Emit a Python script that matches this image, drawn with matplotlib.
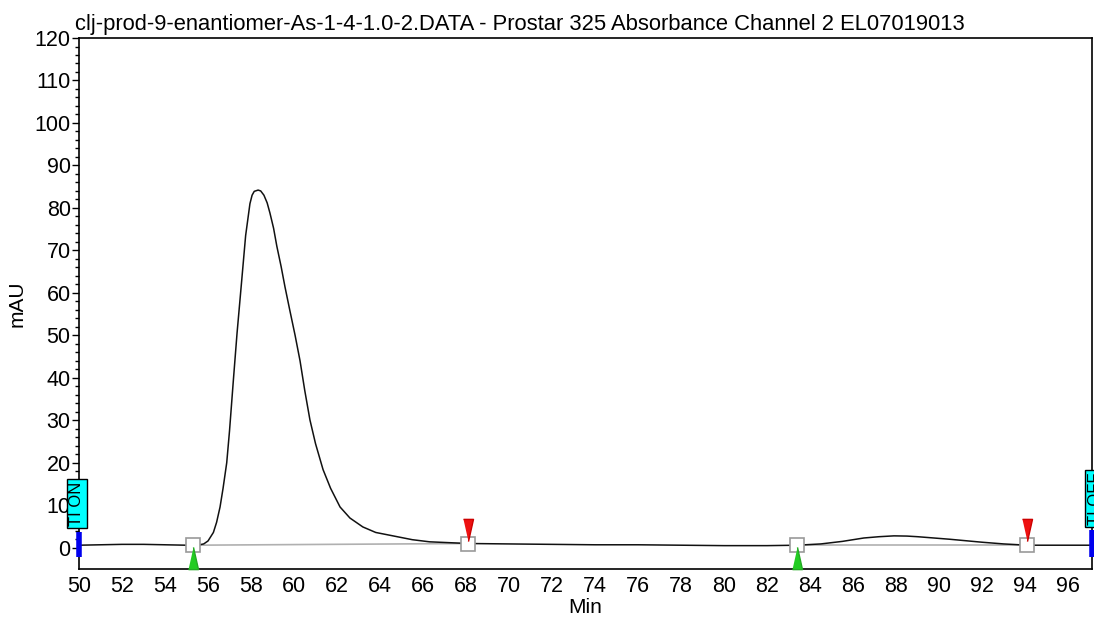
import numpy as np
import matplotlib.pyplot as plt

plt.rcParams['font.family'] = ['Liberation Sans', 'DejaVu Sans']

# chromatogram trace (time in min, signal in mAU)
t_min = [50.0, 51.0, 52.0, 53.0, 54.0, 55.0, 55.5, 55.8, 56.0, 56.1, 56.25,
         56.4, 56.56, 56.7, 56.87, 57.0, 57.18, 57.35, 57.57, 57.75, 57.95,
         58.05, 58.15, 58.33, 58.45, 58.6, 58.75, 58.88, 59.05, 59.2, 59.4,
         59.58, 59.8, 60.05, 60.28, 60.5, 60.74, 61.0, 61.35, 61.7, 62.14,
         62.6, 63.2, 63.8, 64.8, 65.5, 66.3, 67.2, 68.1, 70.0, 72.0, 74.0,
         76.0, 78.0, 80.0, 82.0, 83.4, 84.5, 85.5, 86.5, 87.2, 87.9, 88.5,
         89.0, 90.5, 92.0, 93.0, 94.1, 95.0, 96.0, 97.1]
signal = [0.6, 0.7, 0.8, 0.8, 0.7, 0.6, 0.6, 0.9, 1.6, 2.4, 3.6,
          6.0, 9.6, 14.0, 20.0, 27.5, 39.5, 50.5, 63.1, 73.5, 81.0,
          83.0, 83.9, 84.2, 84.0, 83.0, 81.2, 78.8, 75.2, 71.0, 66.2,
          61.4, 56.0, 50.0, 44.0, 37.0, 30.1, 24.5, 18.4, 14.0, 9.6,
          7.0, 4.9, 3.6, 2.6, 1.9, 1.4, 1.2, 1.0, 0.9, 0.8, 0.7,
          0.7, 0.6, 0.5, 0.5, 0.6, 0.9, 1.5, 2.3, 2.6, 2.8, 2.75,
          2.6, 2.0, 1.3, 0.9, 0.6, 0.6, 0.6, 0.6]

# integration limits: peak start / peak end
peak_start = [55.3, 83.4]
peak_end = [68.1, 94.1]
start_level = [0.6, 0.6]
end_level = [1.0, 0.6]

x_ticks = list(range(50, 97, 2))
y_ticks = list(range(0, 121, 10))

fig = plt.figure(figsize=(10.94, 6.17), dpi=100)
ax = fig.add_axes([0.0722, 0.0778, 0.9258, 0.8606])

# baselines under each peak
for s, e, ys, ye in zip(peak_start, peak_end, start_level, end_level):
    ax.plot([s, e], [ys, ye], color='#b0b0b0', lw=1.2, zorder=2)

ax.plot(t_min, signal, color='#111111', lw=1.1, zorder=3)

# start/end squares and their triangle flags
ax.plot(peak_start + peak_end, start_level + end_level, ls='none', marker='s',
        ms=10, mfc='white', mec='#999999', mew=1.2, zorder=4)
tri_up = [(-0.45, -1), (0.45, -1), (0, 1)]
tri_dn = [(-0.45, 1), (0.45, 1), (0, -1)]
ax.plot(peak_start, [-2.3, -2.3], ls='none', marker=tri_up, ms=16,
        color='#22cc22', mec='#22aa22', zorder=5, clip_on=False)
ax.plot(peak_end, [4.2, 4.2], ls='none', marker=tri_dn, ms=16,
        color='#ee1111', mec='#cc0000', zorder=5, clip_on=False)

# timed integration events
ax.plot([50.0, 50.0], [-2.1, 3.8], color='#0000ee', lw=4, solid_capstyle='butt',
        zorder=6, clip_on=False)
ax.plot([97.1, 97.1], [-2.1, 4.2], color='#0000ee', lw=4, solid_capstyle='butt',
        zorder=6, clip_on=False)
box = dict(boxstyle='square,pad=0.15', fc='#00ffff', ec='black', lw=1)
ax.text(49.9, 10.4, 'TI ON', rotation=90, ha='center', va='center',
        fontsize=12, bbox=box, zorder=7, clip_on=False)
ax.text(97.25, 11.6, 'TI OFF', rotation=90, ha='center', va='center',
        fontsize=12, bbox=box, zorder=7, clip_on=False)

ax.set_xlim(50, 97.1)
ax.set_ylim(-5, 120)
ax.set_xticks(x_ticks)
ax.set_yticks(y_ticks)
ax.set_yticks(np.arange(0, 121, 2), minor=True)
ax.tick_params(axis='x', length=0, pad=5, labelsize=15.5)
ax.tick_params(axis='y', length=5, width=1, pad=1, labelsize=15.5)
ax.tick_params(axis='y', which='minor', length=3, width=1)
for sp in ax.spines.values():
    sp.set_linewidth(1.2)

ax.set_xlabel('Min', fontsize=15, labelpad=1)
ax.set_ylabel('mAU', fontsize=15, labelpad=6)
fig.text(75 / 1094, 1 - 30 / 617,
         'clj-prod-9-enantiomer-As-1-4-1.0-2.DATA - Prostar 325 Absorbance Channel 2 EL07019013',
         fontsize=15.8, ha='left', va='baseline')

fig.savefig('out.png', dpi=100)
